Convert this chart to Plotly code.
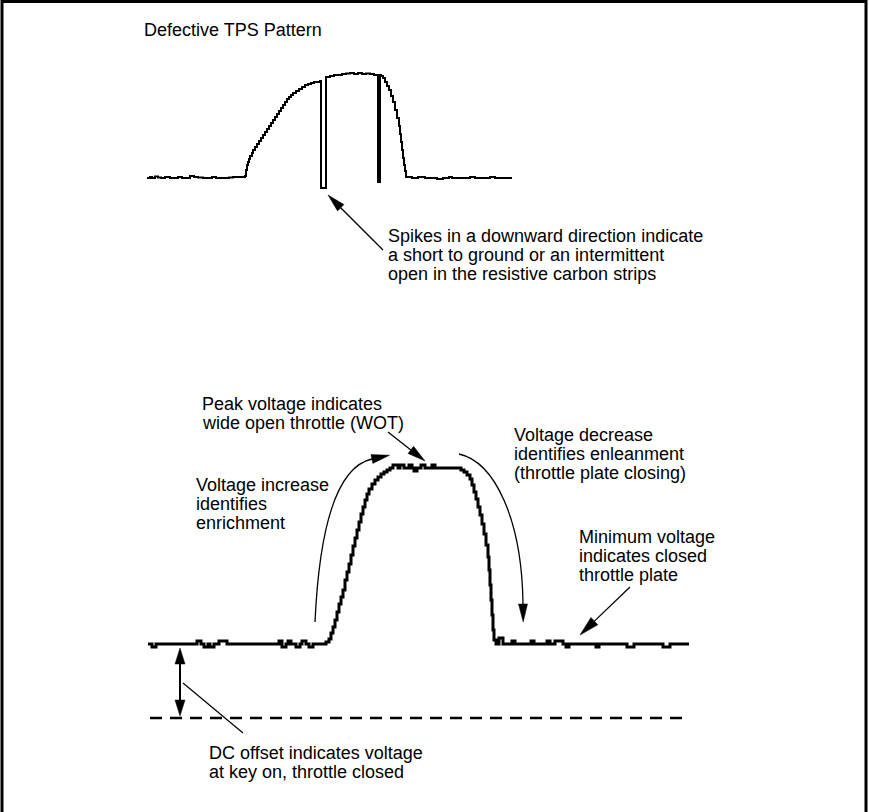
import math
import plotly.graph_objects as go

# ---------------- data (diagram units = page pixels, y grows downward) -------------
TITLE = "Defective TPS Pattern"

# top (defective) TPS trace
top_x = [147, 150, 152, 155, 158, 161, 165, 170, 173, 178, 182, 186, 190, 194, 198, 203, 207, 212,
         216, 220, 224, 229, 233, 238, 242, 245,
         246, 247, 248, 249, 250, 252, 253, 255, 257, 259, 261, 263, 265, 267, 269, 271, 273, 275,
         277, 279, 281, 283, 285, 287, 289, 291, 293, 296, 299, 302, 305, 308, 311, 314, 317, 320,
         321, 326,
         330, 334, 338, 342, 346, 350, 354, 358, 362, 366, 370, 374, 377,
         381, 383, 385, 387, 389, 391, 393, 395, 397, 399, 400, 401, 402, 403, 404, 405, 406,
         412, 418, 425, 430, 437, 443, 449, 452, 460, 466, 470, 475, 480, 485, 490, 495, 500, 505, 512]
top_y = [178, 177, 178, 176.5, 177.5, 178, 177, 178, 178, 177, 178, 178, 176, 177, 177.5, 178, 178, 177,
         178, 178, 178, 177.5, 177, 177, 177, 176,
         170, 165, 162, 159, 156, 153, 150, 147, 144, 141, 138, 135, 132, 129, 126, 123, 120, 117,
         114, 111, 108, 105, 102, 99, 97, 95, 93, 91, 89, 87, 85, 84, 83, 82, 82, 81,
         188, 77,
         76, 75, 75, 74, 73.5, 73, 74, 73, 74, 73.5, 74, 75, 75,
         76, 78, 82, 86, 90, 96, 102, 110, 118, 126, 134, 142, 150, 158, 165, 171, 177,
         178, 177, 178, 178, 179, 178, 177, 178, 178, 178, 177, 178, 178, 178, 177, 178, 178, 178, 178]

# solid downward spike
spike_x = [379, 379]
spike_y = [76, 183]

# bottom (good) TPS trace
bot_x = [148, 152, 156, 197, 201, 204, 208, 210, 214, 219, 227, 279, 282, 286, 288, 291, 296, 300,
         302, 306, 309, 313,
         326, 329, 331, 333, 335, 337, 339, 341, 343, 345, 347, 349, 351, 353, 355, 357, 359, 361,
         363, 365, 367, 369, 372, 375, 378, 381, 384, 387, 390,
         393, 398, 400, 404, 409, 412, 414, 417, 421, 425, 432, 435,
         461, 464, 467, 470, 472, 474, 476, 478, 480, 482, 484, 486, 488, 489, 490, 491, 492, 493,
         494, 496, 499, 503,
         512, 515, 531, 534, 547, 550, 555, 563, 566, 569, 596, 599, 627, 634, 663, 670, 689]
bot_y = [644, 647, 644, 641, 644, 647, 644, 647, 644, 641, 644, 641, 647, 644, 641, 644, 647, 644,
         641, 644, 647, 644,
         642, 639, 633, 627, 620, 612, 604, 597, 590, 580, 572, 564, 555, 546, 538, 530, 522, 514,
         507, 500, 494, 489, 484, 480, 477, 474, 472, 470, 468,
         465, 468, 465, 468, 465, 468, 471, 468, 465, 468, 465, 468,
         470, 472, 475, 479, 485, 492, 499, 507, 515, 524, 534, 545, 557, 570, 585, 600, 615, 630,
         640, 644, 638, 644,
         641, 644, 641, 644, 641, 644, 641, 644, 647, 644, 647, 644, 647, 644, 647, 644, 644]

# zero-volt reference (dashed)
ref_x = [150, 690]
ref_y = [718, 718]

# callout texts: (left x, centre y, text)
labels = [
    (142, 30, TITLE),
    (386, 236, "Spikes in a downward direction indicate"),
    (386, 255, "a short to ground or an intermittent"),
    (386, 274, "open in the resistive carbon strips"),
    (200, 404, "Peak voltage indicates"),
    (200, 423, "wide open throttle (WOT)"),
    (194, 485, "Voltage increase"),
    (194, 504, "identifies"),
    (194, 523, "enrichment"),
    (512, 435, "Voltage decrease"),
    (512, 454, "identifies enleanment"),
    (512, 473, "(throttle plate closing)"),
    (577, 537, "Minimum voltage"),
    (577, 556, "indicates closed"),
    (577, 575, "throttle plate"),
    (207, 753, "DC offset indicates voltage"),
    (207, 772, "at key on, throttle closed"),
]

# ---------------- figure -------------------------------------------------------------
W, H = 869, 812
FONT = "Liberation Sans, Arial, Helvetica, sans-serif"
FS = 18

fig = go.Figure()
fig.add_trace(go.Scatter(x=top_x, y=top_y, mode="lines",
                         line=dict(color="black", width=2, shape="hv"), hoverinfo="skip"))
fig.add_trace(go.Scatter(x=spike_x, y=spike_y, mode="lines",
                         line=dict(color="black", width=4), hoverinfo="skip"))
fig.add_trace(go.Scatter(x=bot_x, y=bot_y, mode="lines",
                         line=dict(color="black", width=3, shape="hv"), hoverinfo="skip"))
fig.add_trace(go.Scatter(x=ref_x, y=ref_y, mode="lines",
                         line=dict(color="black", width=2.5, dash="12px,8px"), hoverinfo="skip"))

shapes = []


def head(tip, frm, length=18, width=9):
    """filled triangular arrow head pointing at tip, coming from direction of frm"""
    dx, dy = tip[0] - frm[0], tip[1] - frm[1]
    d = math.hypot(dx, dy)
    ux, uy = dx / d, dy / d
    bx, by = tip[0] - ux * length, tip[1] - uy * length
    px, py = -uy * width / 2, ux * width / 2
    shapes.append(dict(type="path", xref="x", yref="y",
                       path=f"M{tip[0]},{tip[1]} L{bx + px},{by + py} L{bx - px},{by - py} Z",
                       fillcolor="black", line=dict(color="black", width=0.5)))
    return bx, by


def straight_arrow(tail, tip, lw=1.3, length=18, width=9):
    bx, by = head(tip, tail, length, width)
    shapes.append(dict(type="line", xref="x", yref="y", x0=tail[0], y0=tail[1], x1=bx, y1=by,
                       line=dict(color="black", width=lw)))


# frame
shapes.append(dict(type="rect", xref="x", yref="y", x0=2, y0=1.5, x1=866, y1=830,
                   line=dict(color="black", width=3)))

# spikes callout
straight_arrow((383, 250), (328, 195))
# peak callout
straight_arrow((388, 432), (425, 461))
# minimum voltage callout
straight_arrow((630, 587), (580, 635), length=20, width=10)

# enrichment curved arrow
shapes.append(dict(type="path", xref="x", yref="y", path="M315,622 Q322,470 372,459",
                   line=dict(color="black", width=1.3)))
head((389.5, 455.2), (372, 459), length=18, width=9)
# enleanment curved arrow
shapes.append(dict(type="path", xref="x", yref="y", path="M459,454 C495,462 522,520 523,604",
                   line=dict(color="black", width=1.3)))
head((523.2, 622), (523, 604), length=18, width=9)

# DC offset double arrow
shapes.append(dict(type="line", xref="x", yref="y", x0=180, y0=663, x1=180, y1=701,
                   line=dict(color="black", width=2)))
head((180, 648), (180, 680), length=16, width=10)
head((180, 716), (180, 680), length=16, width=10)
# DC offset leader line
shapes.append(dict(type="line", xref="x", yref="y", x0=183, y0=683, x1=243, y1=733,
                   line=dict(color="black", width=1.2)))

annotations = [dict(x=x, y=y, text=t, xref="x", yref="y", xanchor="left", yanchor="middle",
                    showarrow=False, font=dict(family=FONT, size=FS, color="black"))
               for x, y, t in labels]

fig.update_layout(
    width=W, height=H, margin=dict(l=0, r=0, t=0, b=0),
    paper_bgcolor="white", plot_bgcolor="white", showlegend=False,
    xaxis=dict(range=[0, W], visible=False, fixedrange=True),
    yaxis=dict(range=[H, 0], visible=False, fixedrange=True),
    shapes=shapes, annotations=annotations,
)

fig.write_html("out.html", post_script="document.body.style.margin='0';",
               config={"displayModeBar": False})
